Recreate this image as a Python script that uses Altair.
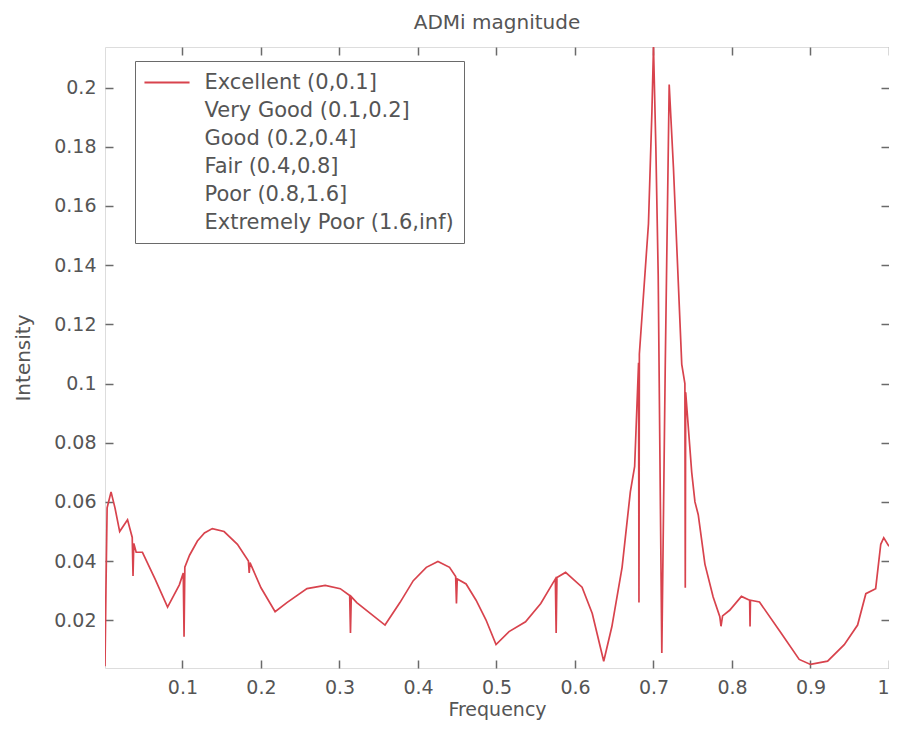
import altair as alt
import pandas as pd

# ---- data ----
freq = [0.0013, 0.0025, 0.004, 0.009, 0.014, 0.020, 0.030, 0.036, 0.037, 0.038,
        0.041, 0.049, 0.065, 0.081, 0.096, 0.101, 0.102, 0.103, 0.109, 0.119,
        0.128, 0.138, 0.153, 0.170, 0.184, 0.185, 0.186, 0.200, 0.218, 0.233,
        0.2586, 0.2818, 0.301, 0.313, 0.314, 0.315, 0.322, 0.358, 0.377, 0.394,
        0.4106, 0.4254, 0.4402, 0.448, 0.449, 0.450, 0.4613, 0.474, 0.4867, 0.4994,
        0.516, 0.537, 0.5564, 0.575, 0.576, 0.577, 0.588, 0.609, 0.622, 0.6366,
        0.647, 0.660, 0.6705, 0.676, 0.681, 0.6815, 0.682, 0.6936, 0.698, 0.700,
        0.703, 0.706, 0.7106, 0.715, 0.720, 0.7254, 0.736, 0.740, 0.7405, 0.741,
        0.7487, 0.7528, 0.757, 0.7655, 0.776, 0.7845, 0.786, 0.788, 0.797, 0.812,
        0.8225, 0.823, 0.8235, 0.835, 0.8625, 0.8856, 0.900, 0.9218, 0.943, 0.960,
        0.9705, 0.983, 0.9895, 0.9933, 1.000]
intensity = [0.0045, 0.030, 0.058, 0.0634, 0.058, 0.050, 0.054, 0.048, 0.035, 0.046,
             0.043, 0.043, 0.034, 0.0245, 0.032, 0.036, 0.0145, 0.038, 0.042, 0.0468,
             0.0495, 0.051, 0.050, 0.0457, 0.040, 0.036, 0.0395, 0.031, 0.0229, 0.026,
             0.0307, 0.0318, 0.0307, 0.0284, 0.0157, 0.028, 0.026, 0.0184, 0.026, 0.0334,
             0.0379, 0.0399, 0.0379, 0.0348, 0.0257, 0.034, 0.0323, 0.0268, 0.0201, 0.0118,
             0.0162, 0.0195, 0.0257, 0.034, 0.0157, 0.0345, 0.0362, 0.0312, 0.0223, 0.0062,
             0.0179, 0.0379, 0.0634, 0.072, 0.107, 0.026, 0.110, 0.154, 0.192, 0.2137,
             0.180, 0.1365, 0.009, 0.1065, 0.201, 0.173, 0.1065, 0.100, 0.031, 0.097,
             0.070, 0.060, 0.0557, 0.039, 0.0279, 0.0212, 0.018, 0.0215, 0.0234, 0.0281,
             0.0268, 0.0179, 0.0268, 0.0262, 0.0157, 0.0068, 0.0051, 0.0062, 0.0118, 0.0184,
             0.029, 0.0307, 0.0457, 0.0479, 0.045]
bands = ["Excellent (0,0.1]", "Very Good (0.1,0.2]", "Good (0.2,0.4]",
         "Fair (0.4,0.8]", "Poor (0.8,1.6]", "Extremely Poor (1.6,inf)"]
x_ticks = [0.1, 0.2, 0.3, 0.4, 0.5, 0.6, 0.7, 0.8, 0.9, 1.0]
y_ticks = [0.02, 0.04, 0.06, 0.08, 0.1, 0.12, 0.14, 0.16, 0.18, 0.2]

df = pd.DataFrame({"Frequency": freq, "Intensity": intensity, "Band": bands[0]})

W, H = 784, 621
FONT = "DejaVu Sans"
TXT = "#555555"
AX = "#6a6a6a"
LINE = "#d8434d"

xs = alt.Scale(domain=[0.0013, 1.0], nice=False, zero=False)
ys = alt.Scale(domain=[0.0039, 0.2137], nice=False, zero=False)

base = alt.Chart(df)

line = base.mark_line(strokeWidth=1.7, clip=True).encode(
    x=alt.X("Frequency:Q", scale=xs,
            axis=alt.Axis(orient="bottom", values=x_ticks, format="~g", ticks=False,
                          domain=False, grid=False, labelFont=FONT, labelFontSize=19,
                          labelColor=TXT, labelPadding=10, title="Frequency",
                          titleFont=FONT, titleFontSize=19, titleFontWeight="normal",
                          titleColor=TXT, titlePadding=3)),
    y=alt.Y("Intensity:Q", scale=ys,
            axis=alt.Axis(orient="left", values=y_ticks, format="~g", ticks=False,
                          domain=False, grid=False, labelFont=FONT, labelFontSize=19,
                          labelColor=TXT, labelPadding=9, title="Intensity",
                          titleFont=FONT, titleFontSize=20, titleFontWeight="normal",
                          titleColor=TXT, titlePadding=20)),
    color=alt.Color("Band:N",
                    scale=alt.Scale(domain=bands, range=[LINE] + ["rgba(0,0,0,0)"] * 5),
                    legend=alt.Legend(title=None, orient="none", legendX=30, legendY=14,
                                      symbolType="M-2.2,0H2.2", symbolSize=420,
                                      symbolStrokeWidth=1.8, symbolOffset=10.5,
                                      labelFont=FONT, labelFontSize=21, labelColor=TXT,
                                      labelOffset=26, padding=10, rowPadding=6,
                                      strokeColor=AX, fillColor="white", labelLimit=400)),
)


def tick_axis(orient, values, offset):
    return alt.Axis(orient=orient, values=values, offset=offset, labels=False,
                    domain=False, grid=False, ticks=True, tickSize=8, tickColor=AX,
                    tickWidth=1.5, title=None)


ticks_a = base.mark_point(opacity=0).encode(
    x=alt.X("Frequency:Q", scale=xs, axis=tick_axis("top", x_ticks, -H)),
    y=alt.Y("Intensity:Q", scale=ys, axis=tick_axis("right", y_ticks, -W)),
)
ticks_b = base.mark_point(opacity=0).encode(
    x=alt.X("Frequency:Q", scale=xs, axis=tick_axis("bottom", x_ticks, -H)),
    y=alt.Y("Intensity:Q", scale=ys, axis=tick_axis("left", y_ticks, -W)),
)

chart = (
    alt.layer(line, ticks_a, ticks_b)
    .resolve_axis(x="independent", y="independent")
    .properties(
        width=W, height=H,
        title=alt.TitleParams("ADMi magnitude", font=FONT, fontSize=20,
                              fontWeight="normal", color=TXT, offset=11),
        padding={"left": 97, "top": 39, "right": 0, "bottom": 54},
        autosize=alt.AutoSizeParams(type="none"),
    )
    .configure_view(stroke=AX, strokeWidth=2)
    .configure(background="white")
)

chart.save("out.html", embed_options={"renderer": "svg", "actions": False})
